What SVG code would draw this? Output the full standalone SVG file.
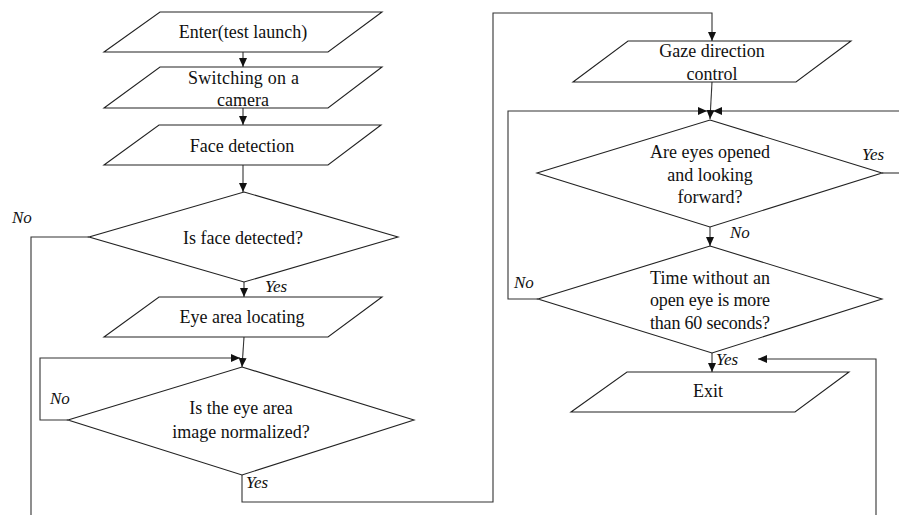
<svg xmlns="http://www.w3.org/2000/svg" width="899" height="515" viewBox="0 0 899 515">
<defs>
<marker id="ah" markerUnits="userSpaceOnUse" markerWidth="10" markerHeight="8" refX="9" refY="4" orient="auto">
<path d="M0,0 L9,4 L0,8 Z" fill="#111"/>
</marker>
</defs>
<style>
.shape{fill:#fff;stroke:#222;stroke-width:1.1}
.conn{fill:none;stroke:#333;stroke-width:1.1}
.arr{marker-end:url(#ah)}
text{font-family:'Liberation Serif','Times New Roman',serif;font-size:18px;fill:#111}
.t{text-anchor:middle}
.lab{font-style:italic;font-size:17px}
</style>
<rect width="899" height="515" fill="#fff"/>
<g id="connectors">
<path class="conn arr" d="M243,52 L243,67"/>
<path class="conn arr" d="M243,108 L243,125"/>
<path class="conn arr" d="M243,165 L243,192"/>
<path class="conn arr" d="M244,282 L244,297"/>
<path class="conn" d="M89,237 L31,237 L31,515"/>
<path class="conn arr" d="M244,337 L242,367"/>
<path class="conn arr" d="M68,420 L40,420 L40,358 L240,358"/>
<path class="conn arr" d="M242,475 L242,502 L493,502 L493,13 L712,13 L712,41"/>
<path class="conn arr" d="M712,82 L710,119"/>
<path class="conn arr" d="M538,299 L508,299 L508,111 L707,111"/>
<path class="conn arr" d="M899,111 L713,111"/>
<path class="conn" d="M882,173 L899,173"/>
<path class="conn arr" d="M710,227 L710,246"/>
<path class="conn arr" d="M712,353 L712,372"/>
<path class="conn arr" d="M876,515 L876,359 L758,359"/>
</g>
<g id="enter">
<polygon class="shape" points="160,12 382,12 328,52 104,52"/>
<text class="t" x="243" y="38">Enter(test launch)</text>
</g>
<g id="camera">
<polygon class="shape" points="160,67 382,67 328,108 104,108"/>
<text x="188" y="84" textLength="111" lengthAdjust="spacing">Switching on a</text>
<text class="t" x="243" y="106">camera</text>
</g>
<g id="face">
<polygon class="shape" points="159,125 381,125 328,165 104,165"/>
<text class="t" x="242" y="152">Face detection</text>
</g>
<g id="face-detected">
<polygon class="shape" points="244,192 398,237 244,282 89,237"/>
<text class="t" x="243" y="244">Is face detected?</text>
</g>
<g id="eye-area">
<polygon class="shape" points="159,297 382,297 328,337 104,337"/>
<text class="t" x="242" y="323">Eye area locating</text>
</g>
<g id="normalized">
<polygon class="shape" points="242,367 414,420 242,475 68,420"/>
<text class="t" x="241" y="414">Is the eye area</text>
<text class="t" x="241" y="438">image normalized?</text>
</g>
<g id="gaze">
<polygon class="shape" points="628,41 851,41 796,82 573,82"/>
<text class="t" x="712" y="57">Gaze direction</text>
<text class="t" x="712" y="80">control</text>
</g>
<g id="eyes-open">
<polygon class="shape" points="710,120 882,173 710,227 537,173"/>
<text class="t" x="710" y="158">Are eyes opened</text>
<text class="t" x="710" y="181">and looking</text>
<text class="t" x="710" y="203">forward?</text>
</g>
<g id="time">
<polygon class="shape" points="710,246 882,299 712,353 538,299"/>
<text x="650" y="284" textLength="120" lengthAdjust="spacing">Time without an</text>
<text x="650" y="306" textLength="120" lengthAdjust="spacing">open eye is more</text>
<text x="650" y="329" textLength="120" lengthAdjust="spacing">than 60 seconds?</text>
</g>
<g id="exit">
<polygon class="shape" points="627,372 849,372 795,412 571,412"/>
<text class="t" x="708" y="397">Exit</text>
</g>
<g id="labels">
<text class="lab" x="12" y="223">No</text>
<text class="lab" x="265" y="292">Yes</text>
<text class="lab" x="50" y="404">No</text>
<text class="lab" x="246" y="488">Yes</text>
<text class="lab" x="862" y="160">Yes</text>
<text class="lab" x="730" y="238">No</text>
<text class="lab" x="514" y="288">No</text>
<text class="lab" x="716" y="365">Yes</text>
</g>
</svg>
